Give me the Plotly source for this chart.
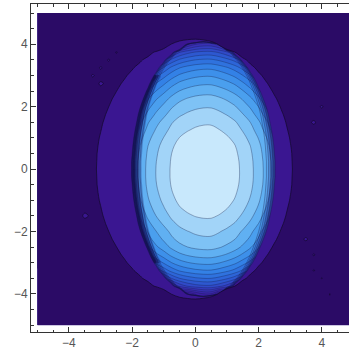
import math
import plotly.graph_objects as go

# sample grid (0.25 steps)
x_vals = [-5.0, -4.75, -4.5, -4.25, -4.0, -3.75, -3.5, -3.25, -3.0, -2.75, -2.5, -2.25, -2.0, -1.75,
          -1.5, -1.25, -1.0, -0.75, -0.5, -0.25, 0.0, 0.25, 0.5, 0.75, 1.0, 1.25, 1.5, 1.75, 2.0,
          2.25, 2.5, 2.75, 3.0, 3.25, 3.5, 3.75, 4.0, 4.25, 4.5, 4.75, 5.0]
y_vals = list(x_vals)

# field height read along the horizontal line through the centre
x_profile = [0, 0, 0, 0, 0, 0, 0, 0, 0, 0.30, 0.48, 0.60, 0.70, 0.77,
             0.83, 0.875, 0.91, 0.945, 0.97, 0.985, 0.995, 1.0, 1.0, 0.99, 0.975, 0.955, 0.925, 0.89, 0.845,
             0.79, 0.725, 0.645, 0.54, 0.39, 0, 0, 0, 0, 0, 0, 0]
# field height read along the vertical line through the centre
y_profile = [0, 0, 0, 0, 0.12, 0.36, 0.50, 0.62, 0.705, 0.775, 0.83, 0.865, 0.89, 0.92,
             0.945, 0.965, 0.98, 0.99, 0.997, 1.0, 1.0, 0.998, 0.993, 0.985, 0.97, 0.95, 0.93, 0.90, 0.87,
             0.835, 0.79, 0.74, 0.68, 0.61, 0.51, 0.39, 0.21, 0, 0, 0, 0]

# left / right edges of the bright region, per row
bright_left = [None, None, None, None, -0.29, -0.69, -0.95, -1.15, -1.31, -1.44, -1.55, -1.65, -1.74, -1.81,
               -1.86, -1.91, -1.95, -1.98, -2.0, -2.02, -2.02, -2.02, -2.0, -1.98, -1.95, -1.91, -1.86, -1.81, -1.74,
               -1.65, -1.55, -1.44, -1.31, -1.15, -0.95, -0.69, -0.29, None, None, None, None]
bright_right = [None, None, None, None, 0.79, 1.19, 1.45, 1.65, 1.81, 1.94, 2.05, 2.15, 2.24, 2.31,
                2.36, 2.41, 2.45, 2.48, 2.5, 2.52, 2.52, 2.52, 2.5, 2.48, 2.45, 2.41, 2.36, 2.31, 2.24,
                2.15, 2.05, 1.94, 1.81, 1.65, 1.45, 1.19, 0.79, None, None, None, None]
# rows where the left edge shows the dark, crowded band of contour lines
dark_left_rows = [0, 0, 0, 0, 0, 0, 0, 0, 1, 1, 1, 1, 1, 1,
                  1, 1, 1, 1, 1, 1, 1, 1, 1, 1, 1, 1, 1, 1, 1,
                  1, 1, 1, 1, 0, 0, 0, 0, 0, 0, 0, 0]
# left / right edges of the faint outer ring, per row
ring_left = [None, None, None, None, -0.77, -1.31, -1.67, -1.94, -2.16, -2.34, -2.49, -2.63, -2.74, -2.84,
             -2.92, -2.98, -3.04, -3.08, -3.11, -3.12, -3.13, -3.12, -3.11, -3.08, -3.04, -2.98, -2.92, -2.84, -2.74,
             -2.63, -2.49, -2.34, -2.16, -1.94, -1.67, -1.31, -0.77, None, None, None, None]
ring_right = [None, None, None, None, 0.71, 1.25, 1.61, 1.88, 2.10, 2.28, 2.43, 2.57, 2.68, 2.78,
              2.86, 2.92, 2.98, 3.02, 3.05, 3.06, 3.07, 3.06, 3.05, 3.02, 2.98, 2.92, 2.86, 2.78, 2.68,
              2.57, 2.43, 2.28, 2.10, 1.88, 1.61, 1.25, 0.71, None, None, None, None]

# small noise specks in the background
speck_x = [-3.25, -3.0, -2.75, -3.0, -2.5, -3.5, 3.5, 3.75, 3.75, 4.0, 4.25, 3.75, 4.0]
speck_y = [3.0, 3.25, 3.5, 2.75, 3.75, -1.5, -2.25, -2.75, -3.25, -3.5, -4.0, 1.5, 2.0]

# contour levels of the field
level_start = 0.0625
level_end = 0.9375
level_step = 0.0625

band_colors = ['#3a1a9e', '#3b1fa4', '#3a26ac', '#3830b5', '#343cbf', '#304ac8',
               '#2d58d0', '#2d65d8', '#2f72de', '#3381e6', '#3d90ea', '#4a9fee',
               '#60b0f2', '#7ec2f5', '#a2d4f8', '#c8e8fc']
ring_color = '#3a1691'
background_color = '#2b0b66'
edge_colors = ['rgba(0,0,0,0)', 'rgba(40,40,150,0.10)', 'rgba(35,30,130,0.18)',
               'rgba(30,25,110,0.28)', 'rgba(25,18,90,0.40)', ring_color]
dark_edge_colors = ['rgba(0,0,0,0)', 'rgba(20,30,120,0.30)', 'rgba(15,20,80,0.52)',
                    'rgba(10,10,45,0.75)', 'rgba(10,10,45,0.75)']

tick_values = [-4, -2, 0, 2, 4]

# ---- tables built from the arrays above ----
field, bright_mask, left_edge, ring_mask = [], [], [], []
for j, y in enumerate(y_vals):
    f_row, b_row, l_row, r_row = [], [], [], []
    for i, x in enumerate(x_vals):
        f_row.append(math.sqrt(max(0.0, x_profile[i] ** 2 + y_profile[j] ** 2 - 1.0)))
        if bright_left[j] is None:
            b_row.append(3.0)
            l_row.append(0.0)
        else:
            c = (bright_left[j] + bright_right[j]) / 2
            h = (bright_right[j] - bright_left[j]) / 2
            b_row.append(abs(x - c) / h)
            l_row.append((c - x) / h * dark_left_rows[j])
        if ring_left[j] is None:
            r_row.append(1.5)
        else:
            c = (ring_left[j] + ring_right[j]) / 2
            h = (ring_right[j] - ring_left[j]) / 2
            r_row.append(abs(x - c) / h)
    field.append(f_row)
    bright_mask.append(b_row)
    left_edge.append(l_row)
    ring_mask.append(r_row)
for sx, sy in zip(speck_x, speck_y):
    ring_mask[y_vals.index(sy)][x_vals.index(sx)] = 0.9

def scale(colors):
    return [[i / (len(colors) - 1), c] for i, c in enumerate(colors)]

fig = go.Figure()
# contour bands of the field
fig.add_trace(go.Contour(
    x=x_vals, y=y_vals, z=field, autocontour=False,
    contours=dict(start=level_start, end=level_end, size=level_step, coloring='fill', showlines=True),
    colorscale=scale(band_colors),
    line=dict(color='rgba(20,30,70,0.38)', width=0.9, smoothing=1.0),
    showscale=False, hoverinfo='skip'))
# crowded dark lines along the left edge
fig.add_trace(go.Contour(
    x=x_vals, y=y_vals, z=left_edge, autocontour=False,
    contours=dict(start=0.86, end=0.996, size=0.045, coloring='fill', showlines=False),
    colorscale=scale(dark_edge_colors),
    line=dict(width=0, smoothing=1.0),
    showscale=False, hoverinfo='skip'))
# edge of the bright region
fig.add_trace(go.Contour(
    x=x_vals, y=y_vals, z=bright_mask, autocontour=False,
    contours=dict(start=0.88, end=1.005, size=0.03, coloring='fill', showlines=True),
    colorscale=scale(edge_colors),
    line=dict(color='rgba(20,20,60,0.35)', width=0.9, smoothing=1.0),
    showscale=False, hoverinfo='skip'))
# faint outer ring and background
fig.add_trace(go.Contour(
    x=x_vals, y=y_vals, z=ring_mask, autocontour=False,
    contours=dict(start=1.0, end=1.0, size=1.0, coloring='fill', showlines=True),
    colorscale=scale(['rgba(0,0,0,0)', background_color]),
    line=dict(color='rgba(20,10,45,0.75)', width=1, smoothing=1.0),
    showscale=False, hoverinfo='skip'))

axis_common = dict(
    tickmode='linear', tick0=0, dtick=2,
    ticks='inside', ticklen=5, tickcolor='#333', tickwidth=1,
    showline=True, linecolor='#333', linewidth=1,
    showgrid=False, zeroline=False, automargin=False,
    minor=dict(dtick=0.5, tick0=0, ticks='inside', ticklen=2.5, tickcolor='#333', showgrid=False),
    tickfont=dict(family='Liberation Sans, Arial, sans-serif', size=12, color='#555'),
)

fig.update_xaxes(range=[-5.2, 4.86], mirror='ticks', **axis_common)
fig.update_yaxes(range=[-5.22, 5.29], mirror=False, **axis_common)

fig.update_layout(
    width=349, height=352,
    paper_bgcolor='white', plot_bgcolor='white',
    margin=dict(l=31, r=0, t=4, b=20, pad=0),
    showlegend=False,
)

fig.write_html("out.html", config={'displayModeBar': False},
               post_script="document.body.style.margin='0px';document.body.style.padding='0px';")
